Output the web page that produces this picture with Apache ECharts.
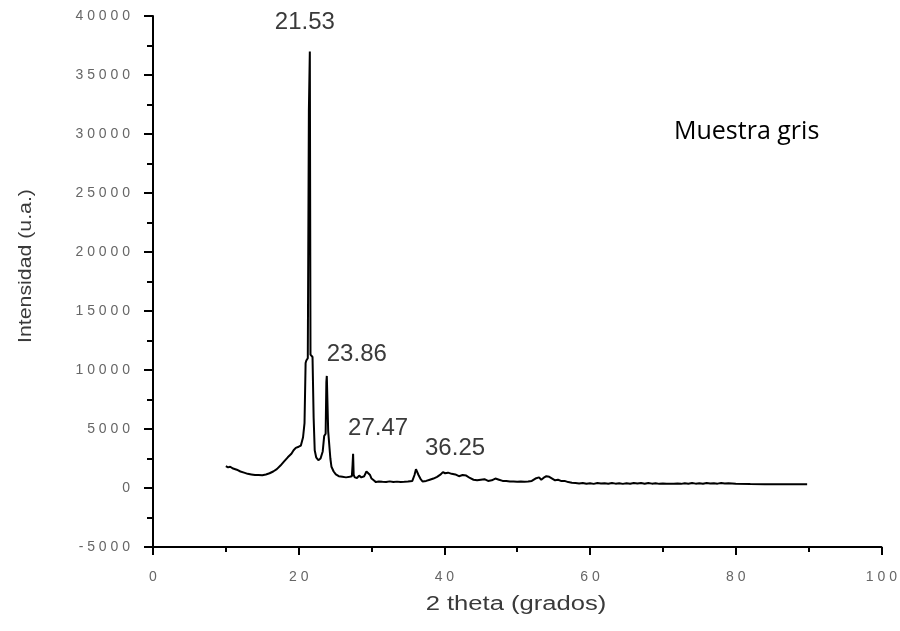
<!DOCTYPE html>
<html>
<head>
<meta charset="utf-8">
<script src="https://cdn.jsdelivr.net/npm/echarts@6/dist/echarts.min.js"></script>
<style>
  html, body { margin: 0; padding: 0; background: #fff; }
  #chart { width: 900px; height: 631px; }
</style>
</head>
<body>
<div id="chart"></div>
<script>
// XRD pattern of the grey sample: 2θ (degrees) vs intensity (a.u.)
const twoTheta = [
  10.0, 10.3, 10.6, 11.0, 11.5, 12.0, 12.5, 13.0, 13.5, 14.0,
  14.5, 15.0, 15.5, 16.0, 16.5, 17.0, 17.5, 18.0, 18.5, 19.0,
  19.3, 19.6, 20.0, 20.3, 20.6, 20.8, 20.95, 21.05, 21.25, 21.4,
  21.53, 21.62, 21.7, 21.9, 22.05, 22.2, 22.4, 22.7, 23.0, 23.3,
  23.5, 23.7, 23.8, 23.86, 23.95, 24.05, 24.2, 24.35, 24.5, 24.8,
  25.1, 25.5, 26.0, 26.5, 27.0, 27.3, 27.4, 27.47, 27.55, 27.7,
  28.0, 28.3, 28.6, 29.0, 29.3, 29.5, 29.8, 30.0, 30.3, 30.6,
  31.0, 31.5, 32.0, 32.5, 33.0, 33.5, 34.0, 34.5, 35.0, 35.6,
  35.9, 36.1, 36.25, 36.45, 36.7, 37.0, 37.5, 38.0, 38.5, 39.0,
  39.5, 39.8, 40.1, 40.5, 41.0, 41.5, 42.0, 42.5, 43.0, 43.5,
  44.0, 44.5, 45.0, 45.5, 46.0, 46.5, 47.0, 47.5, 48.0, 48.5,
  49.0, 49.5, 50.0, 50.5, 51.0, 51.5, 52.0, 52.5, 53.0, 53.3,
  53.6, 54.0, 54.4, 54.8, 55.2, 55.6, 56.0, 56.5, 57.0, 57.5,
  58.0, 58.5, 59.0, 59.5, 60.0, 60.5, 61.0, 61.5, 62.0, 62.5,
  63.0, 63.5, 64.0, 64.5, 65.0, 65.5, 66.0, 66.5, 67.0, 67.5,
  68.0, 68.5, 69.0, 69.5, 70.0, 70.5, 71.0, 71.5, 72.0, 72.5,
  73.0, 73.5, 74.0, 74.5, 75.0, 75.5, 76.0, 76.5, 77.0, 77.5,
  78.0, 78.5, 79.0, 79.5, 80.0, 82.0, 84.0, 86.0, 88.0, 89.8
];
const intensity = [
  1850, 1750, 1800, 1650, 1550, 1400, 1300, 1200, 1150, 1100,
  1100, 1080, 1150, 1250, 1400, 1600, 1900, 2250, 2600, 2900,
  3200, 3400, 3500, 3600, 4300, 5500, 10600, 10800, 11000, 32000,
  37000, 11300, 11200, 11100, 6000, 3200, 2600, 2350, 2500, 3100,
  4400, 4600, 9000, 9500, 9400, 4800, 4800, 2500, 1800, 1400,
  1150, 1000, 950, 900, 950, 1000, 2000, 2900, 1100, 900,
  850, 1050, 900, 1000, 1400, 1250, 1100, 800, 650, 500,
  550, 520, 500, 560, 500, 540, 500, 520, 550, 600,
  1100, 1600, 1750, 1100, 800, 550, 600, 700, 800, 950,
  1150, 1350, 1250, 1300, 1200, 1150, 1000, 1100, 1050, 850,
  700, 650, 700, 750, 600, 650, 800, 700, 600, 600,
  550, 560, 520, 550, 540, 550, 600, 800, 900, 700,
  850, 1000, 950, 800, 650, 700, 600, 600, 500, 450,
  420, 380, 430, 360, 400, 350, 420, 380, 400, 360,
  430, 370, 410, 350, 400, 360, 420, 380, 420, 360,
  430, 370, 400, 350, 380, 360, 370, 350, 380, 350,
  400, 360, 420, 370, 400, 360, 420, 380, 410, 370,
  420, 380, 400, 380, 350, 330, 320, 320, 320, 320
];
// Indexed peaks (2θ position, intensity at the peak)
const peakPos = [21.53, 23.86, 27.47, 36.25];
const peakInt = [37000, 9500, 2900, 1750];
const peakLabelOffset = [[-5, -29], [30, -22], [25, -25], [38, -19]];

const xTicks = [0, 20, 40, 60, 80, 100];
const yTicks = [-5000, 0, 5000, 10000, 15000, 20000, 25000, 30000, 35000, 40000];

const xTitle = '2 theta (grados)';
const yTitle = 'Intensidad (u.a.)';
const sampleName = 'Muestra gris';

// tick labels are drawn with wide digit spacing
const spaced = v => String(v).split('').join(' ');

const chart = echarts.init(document.getElementById('chart'), null, { renderer: 'canvas' });

const tickFont = {
  color: '#666',
  fontFamily: 'Liberation Sans, Arial, sans-serif',
  fontSize: 14
};

chart.setOption({
  animation: false,
  backgroundColor: '#ffffff',
  grid: { left: 153, right: 17, top: 16, bottom: 84, containLabel: false },
  xAxis: {
    type: 'value',
    min: xTicks[0],
    max: xTicks[xTicks.length - 1],
    interval: 20,
    axisLine: { onZero: false, lineStyle: { color: '#000', width: 2 } },
    axisTick: { show: true, inside: false, length: 8, lineStyle: { color: '#000', width: 2 } },
    minorTick: { show: true, splitNumber: 2, length: 5, lineStyle: { color: '#000', width: 2 } },
    splitLine: { show: false },
    axisLabel: Object.assign({ margin: 23, formatter: v => spaced(v) }, tickFont)
  },
  yAxis: {
    type: 'value',
    min: yTicks[0],
    max: yTicks[yTicks.length - 1],
    interval: 5000,
    axisLine: { show: true, onZero: false, lineStyle: { color: '#000', width: 2 } },
    axisTick: { show: true, inside: false, length: 9, lineStyle: { color: '#000', width: 2 } },
    minorTick: { show: true, splitNumber: 2, length: 6, lineStyle: { color: '#000', width: 2 } },
    splitLine: { show: false },
    axisLabel: Object.assign({ margin: 23, formatter: v => spaced(v) }, tickFont)
  },
  series: [
    {
      type: 'line',
      data: twoTheta.map((x, i) => [x, intensity[i]]),
      showSymbol: false,
      symbol: 'none',
      lineStyle: { color: '#000', width: 2 },
      markPoint: {
        symbol: 'circle',
        symbolSize: 0,
        data: peakPos.map((x, i) => ({
          coord: [x, peakInt[i]],
          value: x.toFixed(2),
          label: {
            show: true,
            formatter: x.toFixed(2),
            color: '#3a3a3a',
            fontSize: 24,
            fontFamily: 'Liberation Sans, Arial, sans-serif',
            offset: peakLabelOffset[i]
          }
        }))
      }
    }
  ],
  graphic: [
    {
      // axis titles, horizontally widened
      type: 'text',
      x: 516,
      y: 604,
      scaleX: 1.28,
      style: {
        text: xTitle,
        fill: '#3a3a3a',
        font: '20px "Liberation Sans", Arial, sans-serif',
        align: 'center',
        verticalAlign: 'middle'
      }
    },
    {
      type: 'text',
      x: 26,
      y: 266,
      rotation: Math.PI / 2,
      scaleX: 1.12,
      style: {
        text: yTitle,
        fill: '#3a3a3a',
        font: '19px "Liberation Sans", Arial, sans-serif',
        align: 'center',
        verticalAlign: 'middle'
      }
    },
    {
      type: 'text',
      x: 674,
      y: 132,
      style: {
        text: sampleName,
        fill: '#000',
        font: '25px "Open Sans", "Noto Sans", sans-serif',
        align: 'left',
        verticalAlign: 'middle'
      }
    }
  ]
});
</script>
</body>
</html>
